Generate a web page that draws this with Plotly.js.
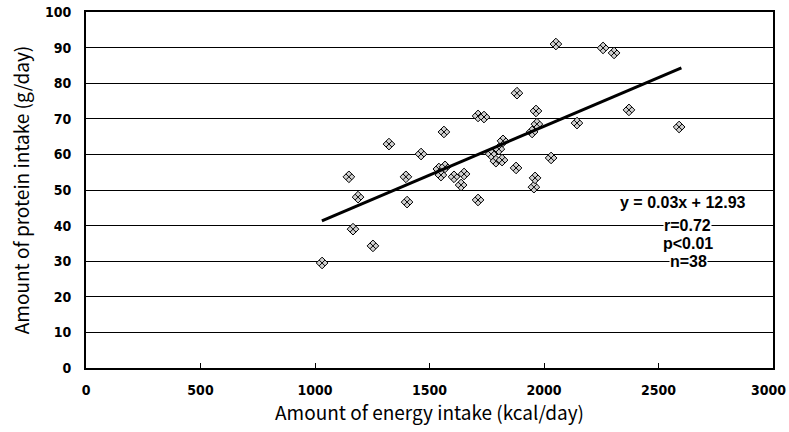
<!DOCTYPE html>
<html>
<head>
<meta charset="utf-8">
<script src="https://cdn.plot.ly/plotly-3.0.1.min.js"></script>
<style>html,body{margin:0;padding:0;background:#fff;}#chart{width:789px;height:432px;}</style>
</head>
<body>
<div id="chart"></div>
<script>
// Energy intake (kcal/day) vs protein intake (g/day)
const energyIntake = [1031,1148,1166,1188,1253,1323,1397,1402,1463,1541,1568,1550,1563,1607,1638,1651,1712,1738,1712,1769,1790,1817,1803,1821,1882,1878,1948,1956,1961,1965,1969,2031,2052,2144,2258,2306,2371,2590];
const proteinIntake = [29.5,53.7,39.0,48.0,34.3,62.9,53.7,46.6,60.1,55.9,56.5,54.2,66.3,53.7,51.4,54.5,70.8,70.5,47.2,60.1,58.1,58.4,61.5,63.8,77.2,56.2,66.3,50.8,53.4,72.2,68.5,59.0,91.0,68.8,89.9,88.5,72.5,67.7];
const fitX = [1030, 2600];
const fitY = [41.3, 84.3];
const xTicks = [0,500,1000,1500,2000,2500,3000];
const yTicks = [0,10,20,30,40,50,60,70,80,90,100];
const statLines = ["y = 0.03x + 12.93", "r=0.72", "p<0.01", "n=38"];
const statX = [2607, 2627, 2630, 2630];
const statY = [46.6, 39.9, 35.1, 29.8];

const tickFont = {family: "'DejaVu Sans Condensed', 'Liberation Sans Narrow', 'Liberation Sans', Arial", size: 14, color: '#000', weight: 'bold'};
const titleFont = {family: "'Noto Sans CJK JP', 'DejaVu Sans', sans-serif", size: 19, color: '#000'};

const traces = [
  {
    x: energyIntake, y: proteinIntake, type: 'scatter', mode: 'markers',
    marker: {symbol: 'diamond-x', size: 9, color: '#d0d0d0', line: {color: '#000', width: 1}},
    hoverinfo: 'skip', showlegend: false
  },
  {
    x: fitX, y: fitY, type: 'scatter', mode: 'lines',
    line: {color: '#000', width: 3}, hoverinfo: 'skip', showlegend: false
  }
];

const annotations = statLines.map((t, i) => ({
  x: statX[i], y: statY[i], xref: 'x', yref: 'y', text: t, showarrow: false,
  font: {family: "'Liberation Sans', Arial", size: 16, color: '#000', weight: 'bold'},
  bgcolor: '#fff', borderpad: 0
}));
// last x tick label, drawn right-aligned so it stays inside the page
const lastTick = xTicks[xTicks.length - 1];
annotations.push({
  x: lastTick, y: 0, xref: 'x', yref: 'y', text: String(lastTick), showarrow: false,
  xanchor: 'right', xshift: 14, yanchor: 'middle', yshift: -22,
  font: tickFont, borderpad: 0
});

const layout = {
  width: 789, height: 432,
  margin: {l: 86, r: 16, t: 12, b: 64},
  paper_bgcolor: '#fff', plot_bgcolor: '#fff',
  showlegend: false,
  xaxis: {
    range: [0, 3000], tickvals: xTicks,
    ticktext: xTicks.map(v => v === lastTick ? '' : String(v)),
    showgrid: false, zeroline: false,
    showline: true, linecolor: '#000', linewidth: 2, mirror: true,
    ticks: 'inside', ticklen: 5, tickcolor: '#000', tickwidth: 1,
    tickfont: tickFont, ticklabelstandoff: 8,
    title: {text: 'Amount of energy intake (kcal/day)', font: titleFont, standoff: 6}
  },
  yaxis: {
    range: [0, 100], tickvals: yTicks, ticktext: yTicks.map(String),
    showgrid: true, gridcolor: '#000', gridwidth: 1,
    zeroline: false,
    showline: true, linecolor: '#000', linewidth: 2, mirror: true,
    ticks: '', tickfont: tickFont, ticklabelstandoff: 10,
    title: {text: 'Amount of protein intake (g/day)', font: titleFont, standoff: 10}
  },
  annotations: annotations
};

Plotly.newPlot('chart', traces, layout, {displayModeBar: false, staticPlot: true});
</script>
</body>
</html>
